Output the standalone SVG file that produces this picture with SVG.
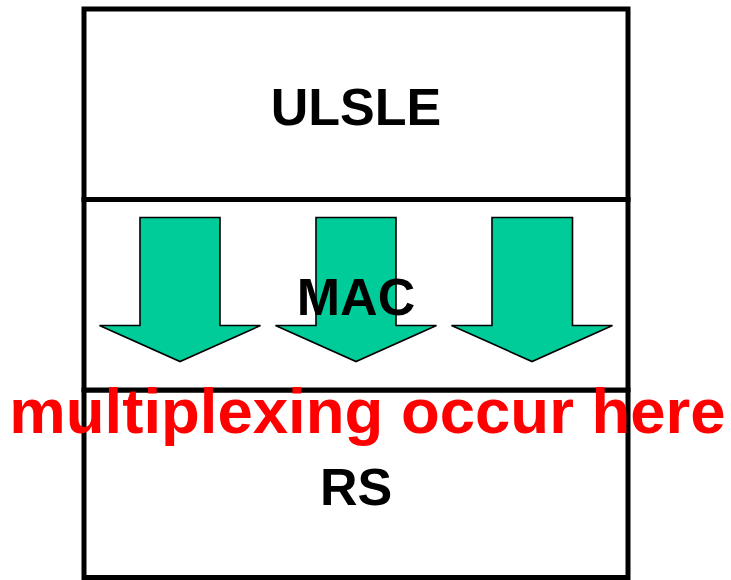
<svg xmlns="http://www.w3.org/2000/svg" width="731" height="580" viewBox="0 0 731 580">
  <style>
    .layer { fill: #FFFFFF; stroke: #000000; stroke-width: 5; }
    .lbl { font-family: "Liberation Sans", Arial, sans-serif; font-weight: bold; font-size: 52px; fill: #000000; text-anchor: middle; }
    .arrow { fill: #00CC99; stroke: #000000; stroke-width: 1.6; stroke-linejoin: miter; }
    .note { font-family: "Liberation Sans", Arial, sans-serif; font-weight: bold; font-size: 63.5px; fill: #FF0000; text-anchor: middle; }
  </style>
  <rect width="731" height="580" fill="#FFFFFF"/>
  <g id="ulsle">
    <rect class="layer" x="84" y="9" width="544" height="190.5"/>
    <text class="lbl" x="356" y="125">ULSLE</text>
  </g>
  <g id="rs">
    <rect class="layer" x="84" y="390" width="544" height="187.5"/>
    <text class="lbl" x="356" y="505">RS</text>
  </g>
  <g id="mac">
    <rect class="layer" x="84" y="199.5" width="544" height="190.5"/>
  </g>
  <g id="connectors">
    <polygon class="arrow" points="140,217.5 220,217.5 220,325.5 260.5,325.5 180,361.5 99.5,325.5 140,325.5"/>
    <polygon class="arrow" points="316,217.5 396,217.5 396,325.5 436.5,325.5 356,361.5 275.5,325.5 316,325.5"/>
    <polygon class="arrow" points="492,217.5 572.5,217.5 572.5,325.5 612.5,325.5 532,361.5 451.5,325.5 492,325.5"/>
  </g>
  <g id="mac-label">
    <text class="lbl" x="356" y="315">MAC</text>
  </g>
  <g id="note">
    <text class="note" x="367.5" y="433">multiplexing occur here</text>
  </g>
</svg>
